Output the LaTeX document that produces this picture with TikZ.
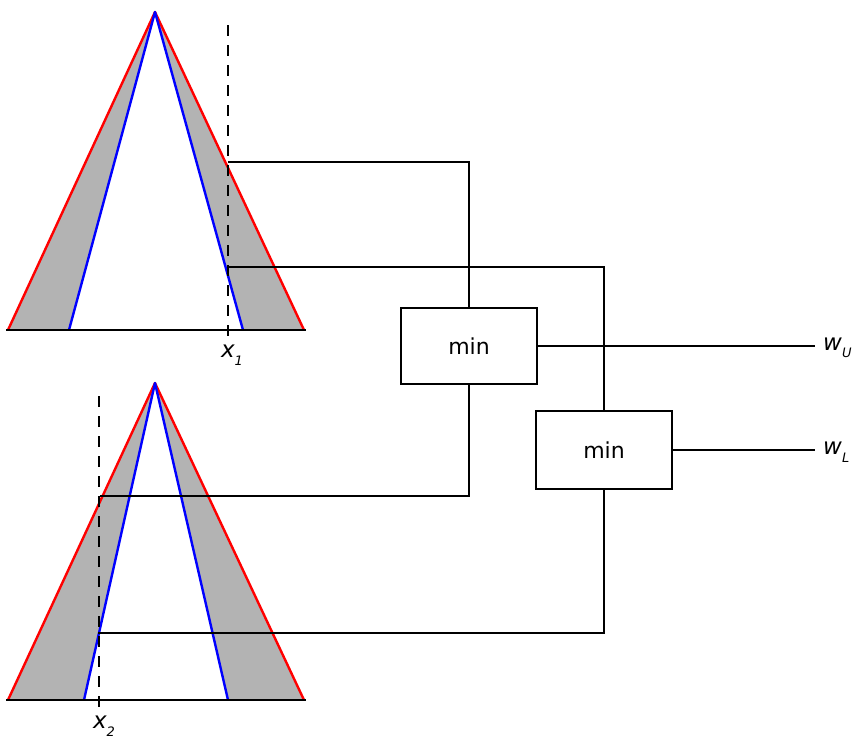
\documentclass[tikz,border=0pt]{standalone}
\usepackage{fontspec}
\setmainfont{DejaVu Sans}
\definecolor{fillgray}{RGB}{179,179,179}
\definecolor{edgered}{RGB}{255,0,0}
\definecolor{edgeblue}{RGB}{0,0,255}
\tikzset{
  wire/.style={line width=2.4pt, black},
  redge/.style={line width=2.4pt, edgered, line join=round},
  bedge/.style={line width=2.4pt, edgeblue, line join=round},
  basel/.style={line width=2.4pt, black},
  dashv/.style={line width=2.4pt, black, dash pattern=on 11pt off 9pt},
  minbox/.style={draw, line width=2.4pt, minimum width=136pt, minimum height=76pt, inner sep=0pt, font=\fontsize{22}{24}\selectfont},
  lab/.style={inner sep=0pt, font=\fontsize{23}{25}\selectfont\itshape}
}
\newcommand{\subl}[2]{#1\raisebox{-0.6ex}{\fontsize{13}{13}\selectfont #2}}
\begin{document}
\begin{tikzpicture}[x=1pt,y=-1pt]
\useasboundingbox (0,0) rectangle (855,742);
% top triangle
\coordinate (a1) at (155,12);
\fill[fillgray] (a1) -- (8,330) -- (304,330) -- cycle;
\fill[white] (a1) -- (69,330) -- (243,330) -- cycle;
\draw[redge] (8,330) -- (a1) -- (304,330);
\draw[bedge] (69,330) -- (a1) -- (243,330);
\draw[basel] (6,330) -- (306,330);
\draw[dashv] (228,25) -- (228,337);
\node[lab] (x1) at (232,355) {\subl{x}{1}};
% bottom triangle
\coordinate (a2) at (155,383);
\fill[fillgray] (a2) -- (8,700) -- (304,700) -- cycle;
\fill[white] (a2) -- (84,700) -- (228,700) -- cycle;
\draw[redge] (8,700) -- (a2) -- (304,700);
\draw[bedge] (84,700) -- (a2) -- (228,700);
\draw[basel] (6,700) -- (306,700);
\draw[dashv] (99,396) -- (99,708);
\node[lab] (x2) at (104,726) {\subl{x}{2}};
% min boxes
\node[minbox, fill=white] (min1) at (469,346) {min};
\node[minbox, fill=white, minimum height=78pt] (min2) at (604,450) {min};
% connection points
\coordinate (u1) at (228,162);
\coordinate (l1) at (228,267);
\coordinate (u2) at (100,496);
\coordinate (l2) at (98,633);
\coordinate (wu) at (815,346);
\coordinate (wl) at (815,450);
\draw[wire] (u1) -| (min1.north);
\draw[wire] (l1) -| (min2.north);
\draw[wire] (min1.south) |- (u2);
\draw[wire] (min2.south) |- (l2);
\draw[wire] (min1.east) -- (wu);
\draw[wire] (min2.east) -- (wl);
\node[lab, anchor=west] (wU) at (823,348) {\subl{w}{U}};
\node[lab, anchor=west] (wL) at (823,452) {\subl{w}{L}};
\end{tikzpicture}
\end{document}
